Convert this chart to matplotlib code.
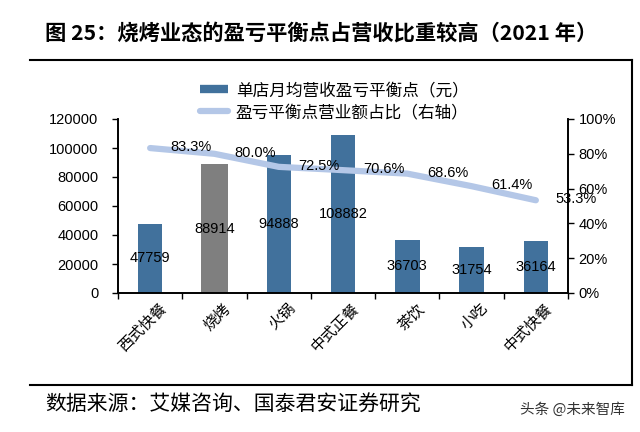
import matplotlib
matplotlib.use("Agg")
import matplotlib.pyplot as plt
from matplotlib.lines import Line2D
import numpy as np

plt.rcParams['font.family'] = ['Noto Sans CJK SC', 'DejaVu Sans']

categories = ["西式快餐", "烧烤", "火锅", "中式正餐", "茶饮", "小吃", "中式快餐"]
breakeven = [47759, 88914, 94888, 108882, 36703, 31754, 36164]
share_pct = [83.3, 80.0, 72.5, 70.6, 68.6, 61.4, 53.3]
left_ticks = [0, 20000, 40000, 60000, 80000, 100000, 120000]
right_ticks = [0, 20, 40, 60, 80, 100]

title = "图 25：烧烤业态的盈亏平衡点占营收比重较高（2021 年）"
legend_labels = ["单店月均营收盈亏平衡点（元）", "盈亏平衡点营业额占比（右轴）"]
source = "数据来源：艾媒咨询、国泰君安证券研究"
watermark = "头条 @未来智库"

blue = "#41719C"
gray = "#7F7F7F"
light = "#B4C7E7"

fig = plt.figure(figsize=(6.4, 4.32), dpi=100)
ax = fig.add_axes([118/640, 1-293/432, (568-118)/640, (293-119)/432])
ax2 = ax.twinx()

x = np.arange(len(categories))
colors = [gray if c == "烧烤" else blue for c in categories]
widths = [0.43 if c == "烧烤" else 0.38 for c in categories]
ax.bar(x, breakeven, width=widths, color=colors, zorder=2)
for xi, v in zip(x, breakeven):
    ax.text(xi, v/2, f"{v}", ha='center', va='center', fontsize=10.5,
            family='Liberation Sans', color='black', zorder=5)

ax.set_xlim(-0.5, len(categories)-0.5)
ax.set_ylim(0, 120000)
ax.set_yticks(left_ticks)
ax.set_yticklabels([str(t) for t in left_ticks], family='Liberation Sans', fontsize=10.5)
ax.set_xticks(x)
ax.set_xticklabels([])
for xi, c in zip(x, categories):
    ax.annotate(c, xy=(xi, 0), xycoords=('data', 'axes fraction'),
                xytext=(14, -13), textcoords='offset pixels', rotation=45,
                ha='right', va='center', rotation_mode='anchor', fontsize=11,
                annotation_clip=False)
ax.set_xticks(np.arange(-0.5, len(categories)), minor=True)
ax.tick_params(axis='x', which='major', length=0)
ax.tick_params(axis='x', which='minor', length=4, direction='out', width=1)
ax.tick_params(axis='y', length=4, width=1, direction='out', pad=10)

ax2.plot(x, share_pct, color=light, lw=4.5, solid_capstyle='round', solid_joinstyle='round', zorder=3)
for xi, p in zip(x, share_pct):
    ax2.annotate(f"{p:.1f}%", (xi, p), xytext=(20, 1), textcoords='offset pixels',
                 ha='left', va='center', fontsize=10.5, family='Liberation Sans', zorder=6)
ax2.set_ylim(0, 100)
ax2.set_yticks(right_ticks)
ax2.set_yticklabels([f"{t}%" for t in right_ticks], family='Liberation Sans', fontsize=10.5)
ax2.tick_params(axis='y', length=4, width=1, direction='out')

for a in (ax, ax2):
    a.spines['top'].set_visible(False)
    for s in ('left', 'right', 'bottom'):
        a.spines[s].set_linewidth(1.2)
        a.spines[s].set_color('black')

handles = [Line2D([0], [0], color=blue, lw=6, solid_capstyle='butt'),
           Line2D([0], [0], color=light, lw=4.5, solid_capstyle='round')]
fig.legend(handles, legend_labels, loc='upper left', bbox_to_anchor=(200/640, 1-82/432),
           frameon=False, fontsize=12, handlelength=1.7, handletextpad=0.45,
           labelspacing=0.32, borderpad=0, borderaxespad=0)

fig.text(45/640, 1-33/432, title, fontsize=15.3, fontweight='bold', ha='left', va='center')
fig.text(45/640, 1-405/432, source, fontsize=15, ha='left', va='center')
fig.text(625/640, 1-410/432, watermark, fontsize=10.5, ha='right', va='center', color='#333333')

fig.add_artist(Line2D([30/640, 632/640], [1-60/432, 1-60/432], color='black', lw=1.5, transform=fig.transFigure))
fig.add_artist(Line2D([30/640, 632/640], [1-385/432, 1-385/432], color='black', lw=1.5, transform=fig.transFigure))
fig.add_artist(Line2D([632/640, 632/640], [1-60/432, 1-385/432], color='black', lw=1.5, transform=fig.transFigure))

fig.savefig("out.png", dpi=100)
